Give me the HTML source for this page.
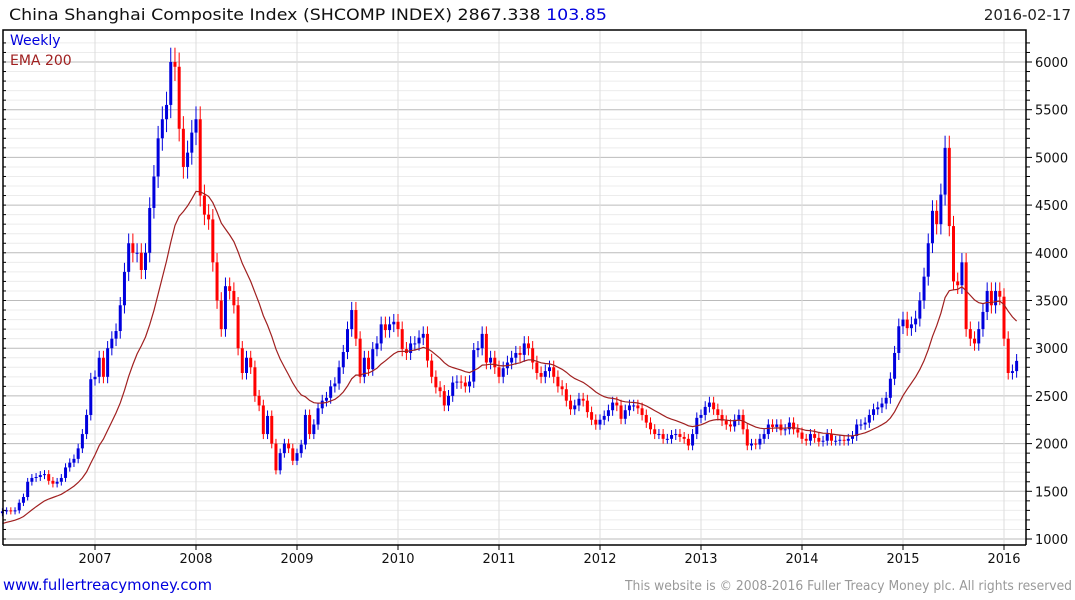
<!DOCTYPE html>
<html><head><meta charset="utf-8"><style>
body{margin:0;background:#fff;width:1075px;height:600px;overflow:hidden;font-family:"DejaVu Sans","Liberation Sans",sans-serif}
svg{position:absolute;left:0;top:0}
</style></head><body>
<svg width="1075" height="600">
<g id="grid"></g><g id="bars"></g><g id="ema"></g><g id="axes"></g>
<text x="9" y="20" font-size="16" fill="#111" textLength="598" lengthAdjust="spacingAndGlyphs">China Shanghai Composite Index (SHCOMP INDEX) 2867.338 <tspan fill="#0000dd">103.85</tspan></text>
<text x="1071" y="20" font-size="15" fill="#222" text-anchor="end">2016-02-17</text>
<text x="10" y="45" font-size="14" fill="#0000dd">Weekly</text>
<text x="10" y="65" font-size="14" fill="#a02020">EMA 200</text>
<text x="3" y="590" font-size="15" fill="#0000dd" textLength="209" lengthAdjust="spacingAndGlyphs">www.fullertreacymoney.com</text>
<text x="625" y="590" font-size="13" fill="#999" textLength="447" lengthAdjust="spacingAndGlyphs">This website is © 2008-2016 Fuller Treacy Money plc. All rights reserved</text>
</svg>
<script>
const years=[2007,2008,2009,2010,2011,2012,2013,2014,2015,2016];
const yTicks=[1000,1500,2000,2500,3000,3500,4000,4500,5000,5500,6000];
const closes=[
1290,1300,1290,1300,1380,1440,1600,1640,1650,1670,1680,1610,1580,1600,1640,1750,1800,1840,1950,2100,2300,2675,
2700,2900,2700,3000,3100,3180,3450,3800,4100,4000,4000,3820,4000,4470,4800,5200,5400,5550,6000,5950,5300,4900,5050,5260,
5400,4600,4400,4350,3900,3500,3200,3650,3600,3450,3000,2740,2900,2800,2500,2400,2100,2290,2000,1720,1900,2000,1950,1820,
1900,1990,2300,2100,2200,2370,2450,2480,2600,2630,2800,2960,3200,3400,3100,2700,2900,2780,2990,3050,3250,3190,3250,3277,
3200,2990,2950,3050,3050,3110,3150,2870,2700,2590,2550,2400,2500,2640,2650,2640,2600,2650,2980,3000,3150,2850,2900,2800,
2700,2790,2850,2900,2950,2930,3050,3000,2850,2740,2700,2760,2800,2700,2600,2570,2450,2360,2400,2470,2450,2330,2250,2200,
2250,2290,2350,2430,2400,2260,2350,2400,2400,2370,2300,2220,2150,2100,2100,2050,2050,2090,2100,2070,2050,1980,2100,2270,
2300,2385,2430,2360,2300,2240,2200,2180,2250,2300,2150,1980,2000,1990,2050,2100,2200,2175,2200,2140,2150,2220,2150,2116,
2050,2030,2100,2060,2020,2030,2100,2030,2030,2040,2030,2050,2080,2200,2200,2220,2300,2360,2380,2420,2480,2680,2950,3230,
3300,3210,3250,3310,3500,3750,4100,4440,4300,4610,5100,4280,3700,3660,3900,3200,3100,3050,3200,3380,3600,3450,3600,3540,
3100,2740,2760,2867];
const startTime=2006+1/12, step=1/24;
const NS='http://www.w3.org/2000/svg';
const L=3,R=1026,T=30,B=545;
const X=t=>95+(t-2007)*101;
const Y=v=>539-(v-1000)*(477/5000);
function mk(tag,attrs,parent){const e=document.createElementNS(NS,tag);for(const k in attrs)e.setAttribute(k,attrs[k]);parent.appendChild(e);return e;}
const grid=document.getElementById('grid'),axes=document.getElementById('axes'),bars=document.getElementById('bars'),emaG=document.getElementById('ema');
for(let v=1000;v<=6200;v+=100){const maj=v%500===0;const l=mk('line',{x1:L,x2:R,y1:Y(v),y2:Y(v),stroke:maj?'#bbb':'#ececec','stroke-width':1},grid);


const tk=mk('line',{x1:R,x2:R+(maj?6:4),y1:Y(v),y2:Y(v),stroke:'#000'},axes);


const tl=mk('line',{x1:L,x2:L+3,y1:Y(v),y2:Y(v),stroke:'#000'},axes);

}
yTicks.forEach(v=>{const t=mk('text',{x:R+9,y:Y(v)+5,'font-size':13,fill:'#111'},axes);t.textContent=v;

});
years.forEach(yr=>{const x=X(yr);const g=mk('line',{x1:x,x2:x,y1:T,y2:B,stroke:'#ddd'},grid);


const tk=mk('line',{x1:x,x2:x,y1:B,y2:B+5,stroke:'#000'},axes);


const t=mk('text',{x:x,y:B+18,'font-size':13,fill:'#111','text-anchor':'middle'},axes);t.textContent=yr;

});
const fr=mk('path',{d:`M${L},${B}V${T}H${R}V${B}`,fill:'none',stroke:'#000','stroke-width':1.5},axes);


const bl=mk('line',{x1:L,x2:R,y1:B,y2:B,stroke:'#000','stroke-width':1.5},axes);


let prev=closes[0]*0.985;
closes.forEach((c,i)=>{const o=prev;const x=X(startTime+i*step);const up=c>=o;const col=up?'#0000dd':'#ff0000';
const hi=Math.max(o,c)*1.025,lo=Math.min(o,c)*0.975;
const w=mk('line',{x1:x,x2:x,y1:Y(hi),y2:Y(lo),stroke:col,'stroke-width':1},bars);


const top=Y(Math.max(o,c)),h=Math.max(1,Y(Math.min(o,c))-top);
const r=mk('rect',{x:x-1.5,y:top,width:3,height:h,fill:col},bars);


prev=c;});
const a=2/21;let e=closes[0]*0.89;const pts=[];
closes.forEach((c,i)=>{e=e+a*(c-e);pts.push(X(startTime+i*step).toFixed(1)+','+Y(e).toFixed(1));});
const pl=mk('polyline',{points:pts.join(' '),fill:'none',stroke:'#a02020','stroke-width':1.2},emaG);


</script>
</body></html>
